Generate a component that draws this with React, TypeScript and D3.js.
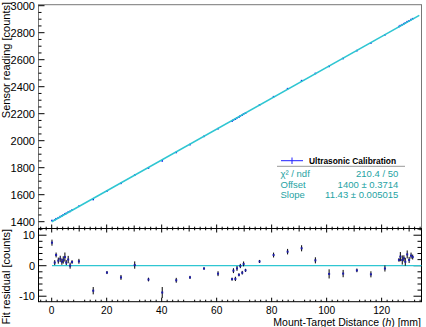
import React from 'react';
import * as d3 from 'd3';

// measured points: target distance [mm], sensor reading [counts], reading error
const distance = [
  0.1, 1.1, 1.6, 2.4, 3.1, 3.7, 4.2, 4.8, 5.3, 6.0, 6.7, 7.4, 9.9, 15.1, 20.1, 25.2, 30.2,
  35.2, 40.2, 45.3, 50.3, 55.4, 60.5, 65.6, 66.1, 66.8, 67.4, 68.1, 68.6, 69.3, 69.8, 70.5,
  75.6, 80.7, 85.8, 90.9, 95.9, 100.9, 106.0, 111.0, 116.1, 121.2, 126.3, 126.8, 127.5,
  128.1, 128.6, 129.3, 130.0, 130.7, 131.3,
];
const reading = [
  1408.7, 1413.6, 1421.8, 1429.1, 1437.7, 1443.6, 1449.9, 1457.7, 1461.6, 1470.6, 1476.6,
  1485.8, 1514.6, 1564.4, 1627.5, 1684.2, 1745.4, 1797.8, 1850.7, 1913.0, 1971.1, 2032.3,
  2088.9, 2145.4, 2153.9, 2159.2, 2169.5, 2175.4, 2184.0, 2189.8, 2198.4, 2204.3, 2265.5,
  2325.9, 2385.3, 2444.7, 2497.9, 2550.6, 2609.0, 2667.2, 2724.2, 2784.4, 2845.5, 2852.3,
  2859.2, 2866.6, 2871.2, 2881.6, 2887.8, 2897.2, 2903.6,
];
const readingErr = [
  1.0, 0.8, 0.8, 1.0, 1.0, 1.0, 1.2, 1.5, 0.8, 1.2, 1.0, 0.6, 0.8, 1.2, 0.5, 0.8, 1.2,
  0.6, 1.8, 0.8, 0.5, 0.4, 0.8, 0.5, 0.8, 0.7, 0.8, 0.5, 0.7, 0.6, 0.8, 0.5, 0.5, 0.8,
  0.9, 1.0, 1.0, 1.5, 1.2, 0.6, 1.0, 1.0, 0.6, 1.5, 1.5, 1.0, 1.3, 1.3, 1.0, 1.0, 0.8,
];

// fit result
const fitOffset = 1400;
const fitSlope = 11.43;
const fitRange = [0, 133.7];

const legendTitle = 'Ultrasonic Calibration';
const statLabels = ['χ² / ndf', 'Offset', 'Slope'];
const statValues = ['210.4 / 50', '1400 ± 0.3714', '11.43 ± 0.005015'];

const xTickValues = [0, 20, 40, 60, 80, 100, 120];
const topTickValues = [1400, 1600, 1800, 2000, 2200, 2400, 2600, 2800, 3000];
const resTickValues = [-10, 0, 10];

const font = 'Liberation Sans, Arial, Helvetica, sans-serif';
const fitColor = '#2fc6d2';
const statColor = '#1ea3a3';

const left = 38.5;
const right = 421.5;
const topY0 = 4.7;
const midY = 228.5;
const botY1 = 301.7;

export default function App() {
  const x = d3.scaleLinear().domain([-4.8, 134.5]).range([left, right]);
  const yTop = d3.scaleLinear().domain([1349.6, 3007.4]).range([midY, topY0]);
  const yRes = d3.scaleLinear().domain([-11.8, 12.2]).range([botY1, midY]);

  const fit = (d: number) => fitOffset + fitSlope * d;
  const residual = reading.map((r, i) => r - fit(distance[i]));

  const fitLine = d3.line<number>().x(d => x(d)).y(d => yTop(fit(d)));

  const xMinor = d3.range(-4, 135, 2).filter(v => v % 10 !== 0);
  const xMid = d3.range(0, 135, 10).filter(v => v % 20 !== 0);
  const topMinor = d3.range(1350, 3008, 50).filter(v => v % 200 !== 0);
  const resMinor = d3.range(-10, 13, 2).filter(v => v % 10 !== 0);

  return (
    <svg width={426} height={327} style={{ position: 'absolute', left: 0, top: 0 }}
      fontFamily={font}>
      <rect width={426} height={327} fill="#fff" />

      {/* upper pad: readings + fit */}
      <rect x={left} y={topY0} width={right - left} height={midY - topY0} fill="none"
        stroke="#777" strokeWidth={1} />
      {topTickValues.map(v => (
        <g key={'ty' + v}>
          <line x1={left} x2={left + 6} y1={yTop(v)} y2={yTop(v)} stroke="#000" />
          <text x={35} y={yTop(v) + 4} fontSize={11} textAnchor="end">{v}</text>
        </g>
      ))}
      {topMinor.map(v => (
        <line key={'tm' + v} x1={left} x2={left + 3} y1={yTop(v)} y2={yTop(v)} stroke="#000" />
      ))}
      <text transform={`translate(9.5,2) rotate(-90)`} fontSize={11} textAnchor="end">
        Sensor reading [counts]
      </text>

      {distance.map((d, i) => (
        <g key={'p' + i}>
          <line x1={x(d)} x2={x(d)} y1={yTop(reading[i] - readingErr[i])}
            y2={yTop(reading[i] + readingErr[i])} stroke="#0000ee" />
          <rect x={x(d) - 0.8} y={yTop(reading[i]) - 0.8} width={1.6} height={1.6} fill="#0000ee" />
        </g>
      ))}
      <path d={fitLine(fitRange) || ''} fill="none" stroke={fitColor} strokeWidth={1.6} />

      {/* legend / fit stats */}
      <line x1={281} x2={303} y1={160.7} y2={160.7} stroke="#2020ff" />
      <line x1={292} x2={292} y1={157.5} y2={164} stroke="#2020ff" />
      <text x={309} y={163.8} fontSize={8.4} fontWeight="bold">{legendTitle}</text>
      <line x1={277} x2={405} y1={166.3} y2={166.3} stroke="#999" />
      {statLabels.map((lab, i) => (
        <g key={lab} fill={statColor} fontSize={9.5}>
          <text x={280.5} y={177 + i * 10.7}>{lab}</text>
          <text x={398.3} y={177 + i * 10.7} textAnchor="end">{statValues[i]}</text>
        </g>
      ))}

      {/* lower pad: residuals */}
      <rect x={left} y={midY} width={right - left} height={botY1 - midY} fill="none"
        stroke="#000" strokeWidth={1} />
      {xTickValues.map(v => (
        <g key={'xt' + v}>
          <line x1={x(v)} x2={x(v)} y1={midY - 4} y2={midY + 4} stroke="#000" />
          <line x1={x(v)} x2={x(v)} y1={botY1} y2={botY1 - 4} stroke="#000" />
          <text x={x(v)} y={313.5} fontSize={10.2} textAnchor="middle">{v}</text>
        </g>
      ))}
      {xMid.map(v => (
        <line key={'xd' + v} x1={x(v)} x2={x(v)} y1={midY - 3} y2={midY + 3} stroke="#000" />
      ))}
      {xMinor.map(v => (
        <g key={'xm' + v}>
          <line x1={x(v)} x2={x(v)} y1={midY - 1.8} y2={midY + 1.8} stroke="#000" />
          <line x1={x(v)} x2={x(v)} y1={botY1} y2={botY1 - 2} stroke="#000" />
        </g>
      ))}
      {resTickValues.map(v => (
        <g key={'ry' + v}>
          <line x1={left} x2={left + 8} y1={yRes(v)} y2={yRes(v)} stroke="#000" />
          <line x1={right} x2={right - 8} y1={yRes(v)} y2={yRes(v)} stroke="#000" />
          <text x={35} y={yRes(v) + 4} fontSize={11} textAnchor="end">{v}</text>
        </g>
      ))}
      {resMinor.map(v => (
        <g key={'rm' + v}>
          <line x1={left} x2={left + 4} y1={yRes(v)} y2={yRes(v)} stroke="#000" />
          <line x1={right} x2={right - 4} y1={yRes(v)} y2={yRes(v)} stroke="#000" />
        </g>
      ))}
      <text transform={`translate(9.5,229) rotate(-90)`} fontSize={11} textAnchor="end">
        Fit residual [counts]
      </text>

      <line x1={x(distance[0])} x2={right} y1={yRes(0)} y2={yRes(0)} stroke={fitColor}
        strokeWidth={1.2} />
      {distance.map((d, i) => (
        <g key={'r' + i}>
          <line x1={x(d)} x2={x(d)} y1={yRes(residual[i] - readingErr[i])}
            y2={yRes(residual[i] + readingErr[i])} stroke="#000" />
          <rect x={x(d) - 1} y={yRes(residual[i]) - 1} width={2} height={2} fill="#1c1ca8" />
        </g>
      ))}

      <text x={421} y={325.5} fontSize={10.5} textAnchor="end">
        Mount-Target Distance (<tspan fontStyle="italic">h</tspan>) [mm]
      </text>
    </svg>
  );
}
